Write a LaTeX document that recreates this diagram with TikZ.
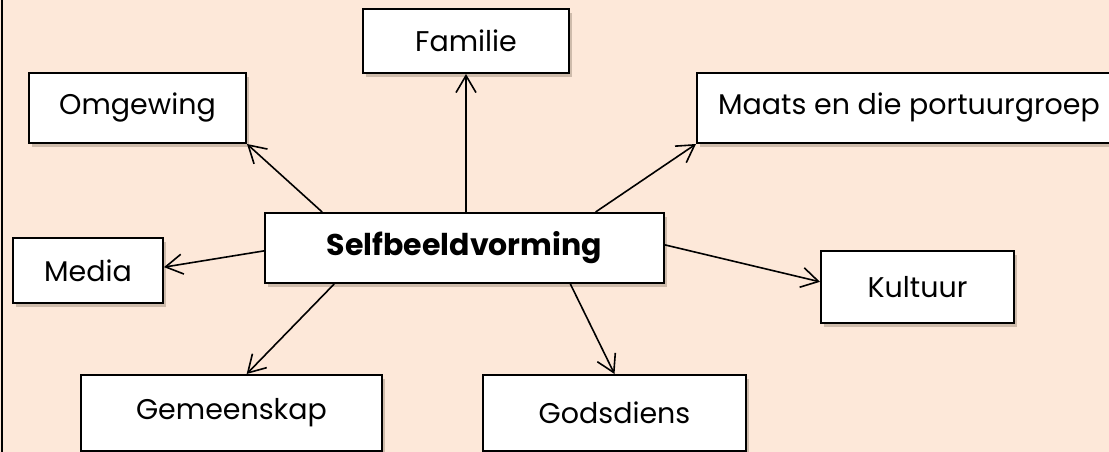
\documentclass[tikz,border=0pt]{standalone}
\usepackage{fontspec}
\setmainfont{Poppins}
\usetikzlibrary{arrows.meta,shadows,calc}
\definecolor{bgpeach}{HTML}{FDE8D9}
\definecolor{shadowc}{HTML}{BBA898}
\tikzset{
  box/.style={draw=black, line width=2pt, fill=white, inner sep=0pt,
    font=\fontsize{28.5}{32}\selectfont,
    drop shadow={shadow xshift=3pt, shadow yshift=-4pt, fill=shadowc, opacity=0.7}},
  link/.style={line width=1.6pt, -{Straight Barb[length=17pt,width=20pt,line width=1.6pt]}}
}
\begin{document}
\begin{tikzpicture}[x=1pt,y=-1pt]
\useasboundingbox (0,0) rectangle (1109,452);
\fill[bgpeach] (0,0) rectangle (1109,452);
\draw[line width=2.5pt] (2,0) -- (2,452);

\node[box, minimum width=206pt, minimum height=64pt] (fam) at (466,41) {Familie};
\node[box, minimum width=217pt, minimum height=70pt] (omg) at (137.5,108) {Omgewing};
\node[box, minimum width=424pt, minimum height=70pt] (maats) at (909,108) {Maats en die portuurgroep};
\node[box, minimum width=399pt, minimum height=70pt, font=\fontsize{30}{34}\selectfont\bfseries] (self) at (464.5,248) {Selfbeeldvorming};
\node[box, minimum width=150pt, minimum height=65pt] (media) at (88,270.5) {Media};
\node[box, minimum width=193pt, minimum height=72pt] (kult) at (917.5,287) {Kultuur};
\node[box, minimum width=301pt, minimum height=76pt] (gem) at (231.5,413) {Gemeenskap};
\node[box, minimum width=263pt, minimum height=76pt] (god) at (614.5,413) {Godsdiens};

\draw[link] (fam.south |- self.north) -- (fam.south);
\draw[link] ($(self.north west)!0.145!(self.north east)$) -- (omg.south east);
\draw[link] ($(self.north west)!0.827!(self.north east)$) -- (maats.south west);
\draw[link] ($(self.north west)!0.54!(self.south west)$) -- ($(media.north east)!0.45!(media.south east)$);
\draw[link] ($(self.north east)!0.457!(self.south east)$) -- ($(kult.north west)!0.43!(kult.south west)$);
\draw[link] ($(self.south west)!0.175!(self.south east)$) -- ($(gem.north west)!0.55!(gem.north east)$);
\draw[link] ($(self.south west)!0.764!(self.south east)$) -- (god.north);
\end{tikzpicture}
\end{document}
